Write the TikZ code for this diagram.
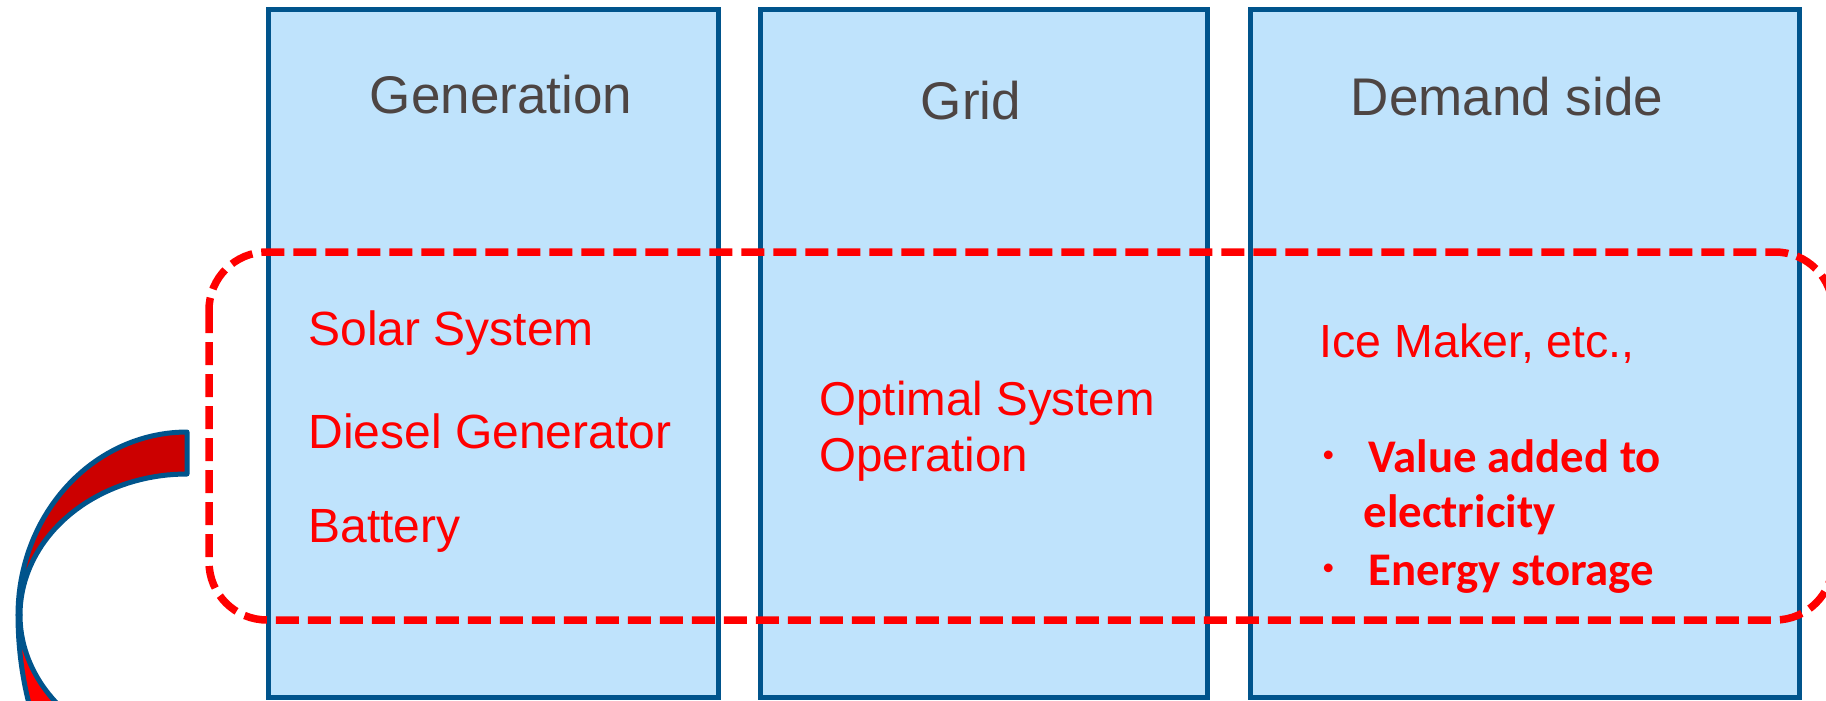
\documentclass[tikz,border=0pt]{standalone}
\usepackage{fontspec}
\setmainfont{Liberation Sans}
\newfontfamily\calibrifont{Carlito}
\definecolor{boxblue}{HTML}{BFE3FC}
\definecolor{edgeblue}{HTML}{00548C}
\definecolor{titlegray}{HTML}{4D4543}
\definecolor{arrowdark}{HTML}{CC0000}
\begin{document}
\begin{tikzpicture}[x=1pt,y=-1pt,
  column/.style={draw=edgeblue, line width=5pt, fill=boxblue, inner sep=0pt, minimum height=687pt},
  title/.style={anchor=base, text=titlegray, font=\fontsize{53}{60}\selectfont},
  item/.style={anchor=base west, text=red, font=\fontsize{48}{56}\selectfont},
  bulletitem/.style={anchor=base west, text=red, font=\calibrifont\bfseries\fontsize{46.8}{54}\selectfont},
  region/.style={draw=red, line width=7.5pt, dash pattern=on 23pt off 9pt, rounded corners=58pt},
  arcband/.style={draw=edgeblue, line width=5pt, line join=round},
]
\useasboundingbox (0,0) rectangle (1826,701);
\clip (0,0) rectangle (1826,701);

% three columns
\node[column, minimum width=450pt] (gen) at (493,353.5) {};
\node[column, minimum width=447pt] (grid) at (983.5,353.5) {};
\node[column, minimum width=549pt] (demand) at (1524.5,353.5) {};

% curved arrow on the left (back face, then front face)
\filldraw[arcband, fill=arrowdark]
  plot[domain=90:180, samples=40, variable=\t] ({187+169*cos(\t)}, {615-183*sin(\t)})
  -- plot[domain=180:90, samples=40, variable=\t] ({187+167*cos(\t)}, {615-141*sin(\t)})
  -- cycle;
\filldraw[arcband, fill=red]
  plot[domain=180:250, samples=40, variable=\t] ({187+169*cos(\t)}, {615-250*sin(\t)})
  -- plot[domain=250:180, samples=40, variable=\t] ({187+167*cos(\t)}, {615-141*sin(\t)})
  -- cycle;

% dashed region across the columns
\draw[region] (209,252) rectangle (1833,620);

% column titles
\node[title] (genT) at (501,113) {Generation};
\node[title] (gridT) at (971,119) {Grid};
\node[title] (demandT) at (1507,115) {Demand side};

% generation items
\node[item] (solar) at (305,345) {Solar System};
\node[item] (diesel) at (305,448) {Diesel Generator};
\node[item] (battery) at (305,542) {Battery};

% grid items
\node[item, font=\fontsize{47.5}{56}\selectfont] (opt1) at (816,415) {Optimal System};
\node[item, font=\fontsize{47.5}{56}\selectfont] (opt2) at (816,471) {Operation};

% demand side items
\node[item, font=\fontsize{46.5}{54}\selectfont] (ice) at (1316,357) {Ice Maker, etc.,};
\node[bulletitem] (b1) at (1319,468) {·};
\node[bulletitem] (val1) at (1365,472) {Value added to};
\node[bulletitem] (val2) at (1360,527) {electricity};
\node[bulletitem] (b2) at (1319,581) {·};
\node[bulletitem] (stor) at (1365,585) {Energy storage};
\end{tikzpicture}
\end{document}
